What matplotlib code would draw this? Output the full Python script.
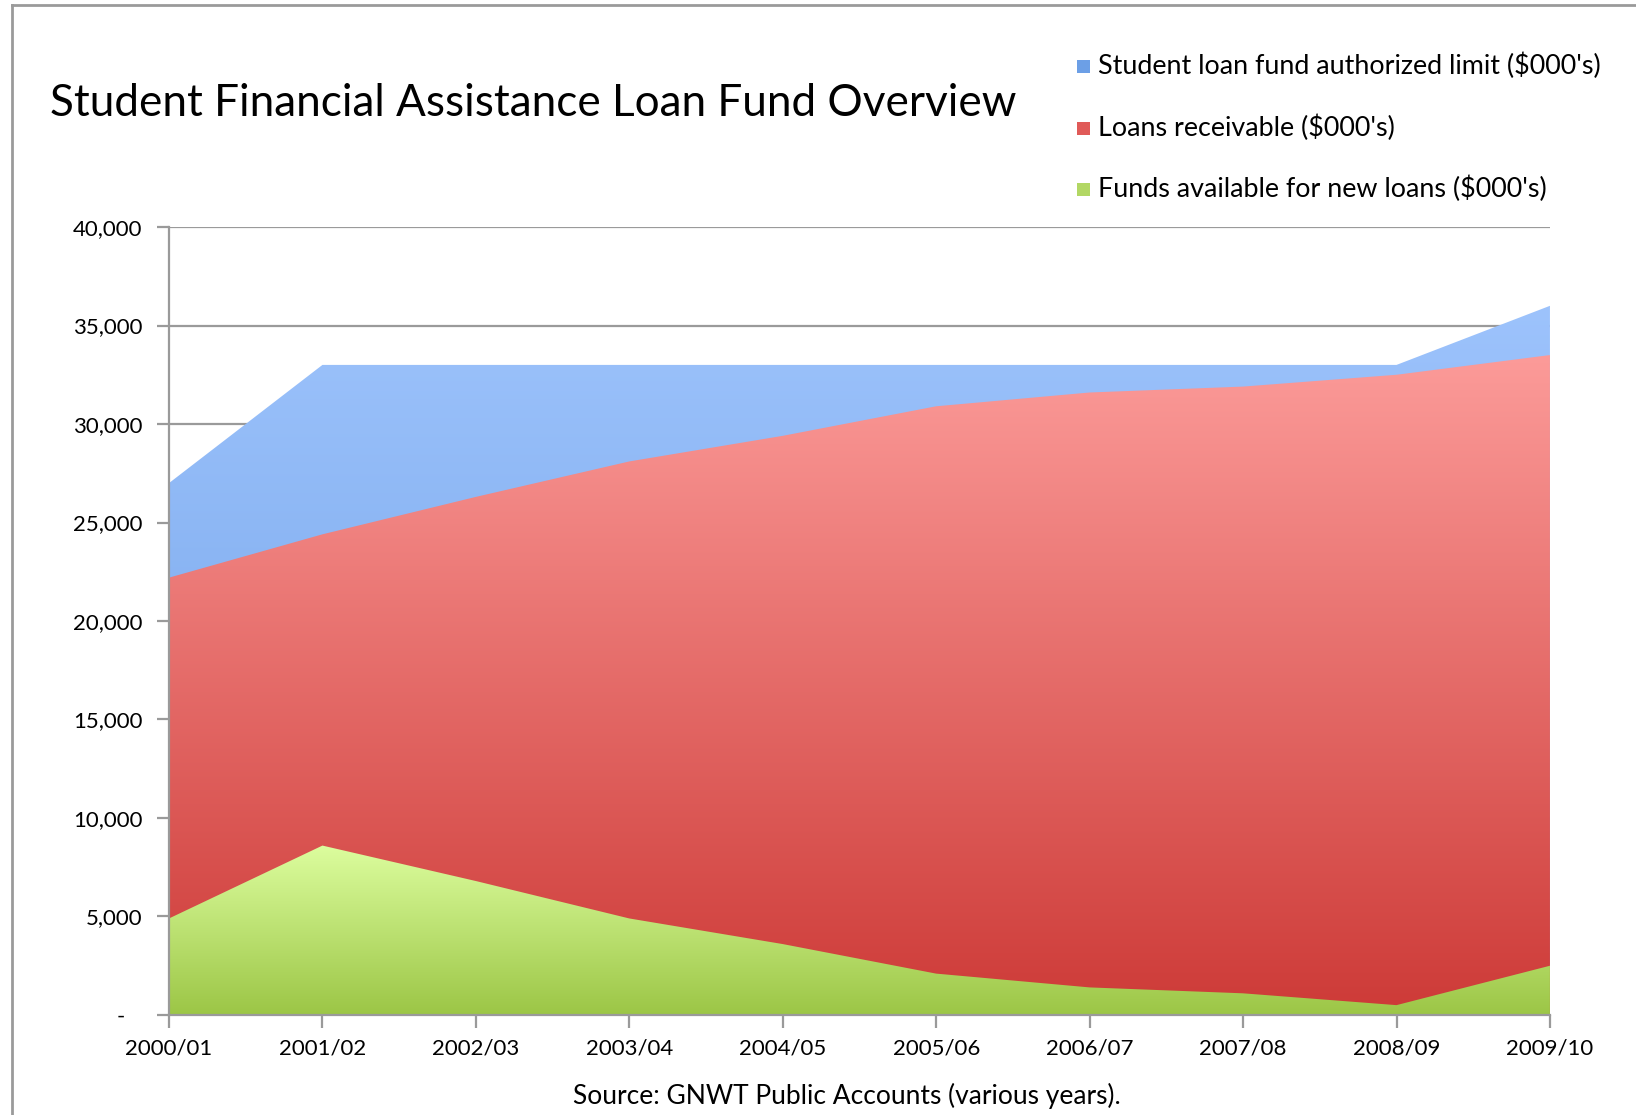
import numpy as np
import matplotlib.pyplot as plt
from matplotlib.colors import LinearSegmentedColormap
from matplotlib.lines import Line2D
from matplotlib.patches import Rectangle
from matplotlib.ticker import FuncFormatter

plt.rcParams['font.family'] = ['Lato', 'DejaVu Sans']

years = ['2000/01', '2001/02', '2002/03', '2003/04', '2004/05',
         '2005/06', '2006/07', '2007/08', '2008/09', '2009/10']
authorized_limit = [27000, 33000, 33000, 33000, 33000, 33000, 33000, 33000, 33000, 36000]
loans_receivable = [22200, 24400, 26300, 28100, 29400, 30900, 31600, 31900, 32500, 33500]
funds_available = [4900, 8600, 6800, 4900, 3600, 2100, 1400, 1100, 500, 2500]

labels = ["Student loan fund authorized limit ($000's)",
          "Loans receivable ($000's)",
          "Funds available for new loans ($000's)"]
# (top colour, bottom colour) of each gradient
shades = [('#9dc3fc', '#6b9de4'),
          ('#fc9b99', '#cd3a37'),
          ('#dcfd9e', '#9cc646')]
swatch = ['#6c9fe6', '#e05a58', '#b2d764']

fig = plt.figure(figsize=(16.36, 11.15), dpi=100)
ax = fig.add_axes([0.1033, 0.0897, 0.8441, 0.7067])

x = np.arange(len(years))
for vals, (top, bot) in zip([authorized_limit, loans_receivable, funds_available], shades):
    poly = ax.fill_between(x, 0, vals, facecolor='none', edgecolor='none', zorder=2)
    cmap = LinearSegmentedColormap.from_list('g', [bot, top])
    grad = np.linspace(0, 1, 256).reshape(-1, 1)
    im = ax.imshow(grad, cmap=cmap, origin='lower', aspect='auto',
                   extent=[0, len(years) - 1, 0, max(vals)], zorder=2,
                   interpolation='bilinear')
    path = poly.get_paths()[0]
    im.set_clip_path(path, transform=ax.transData)

ax.set_xlim(0, len(years) - 1)
ax.set_ylim(0, 40000)
ax.set_yticks(range(0, 40001, 5000))
ax.yaxis.set_major_formatter(FuncFormatter(lambda v, p: '-   ' if v == 0 else f'{int(v):,}'))
ax.set_xticks(x)
ax.set_xticklabels(years)
ax.grid(axis='y', color='#9a9a9a', linewidth=1.6, zorder=1)
ax.set_axisbelow(True)
for s in ['top', 'right']:
    ax.spines[s].set_visible(False)
for s in ['left', 'bottom']:
    ax.spines[s].set_color('#9a9a9a')
    ax.spines[s].set_linewidth(1.6)
    ax.spines[s].set_zorder(3)
ax.tick_params(axis='both', colors='#9a9a9a', width=1.6, length=9, labelcolor='black', labelsize=16)
ax.tick_params(axis='y', pad=10)
ax.tick_params(axis='x', pad=8)

fig.text(0.0306, 0.907, 'Student Financial Assistance Loan Fund Overview',
         fontsize=31.8, va='center', ha='left')

# legend drawn by hand to keep the wide row spacing
for i, (lab, c) in enumerate(zip(labels, swatch)):
    yf = 1 - (66 + i * 61.5) / 1115
    fig.patches.append(Rectangle((1077 / 1636, yf - 0.0065), 13 / 1636, 13 / 1115,
                                 transform=fig.transFigure, facecolor=c, edgecolor='none'))
    fig.text(1098 / 1636, yf, lab, fontsize=19.4, va='center', ha='left')

fig.text(847 / 1636, 1 - 1096 / 1115, 'Source: GNWT Public Accounts (various years).',
         fontsize=19, va='center', ha='center')

# outer frame
fig.add_artist(Line2D([12 / 1636, 1], [1 - 5 / 1115, 1 - 5 / 1115], color='#9a9a9a', lw=2,
                      transform=fig.transFigure))
fig.add_artist(Line2D([12 / 1636, 12 / 1636], [0, 1 - 5 / 1115], color='#9a9a9a', lw=2,
                      transform=fig.transFigure))

fig.savefig('out.png', dpi=100)
